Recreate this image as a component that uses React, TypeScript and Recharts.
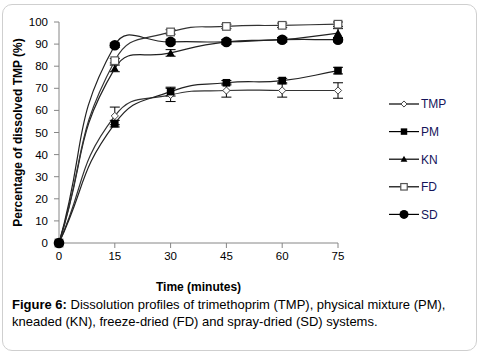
import React from "react";
import { LineChart, Line, XAxis, YAxis, ErrorBar } from "recharts";

const times = [0, 15, 30, 45, 60, 75];
const xTicks = [0, 15, 30, 45, 60, 75];
const yTicks = [0, 10, 20, 30, 40, 50, 60, 70, 80, 90, 100];

const tmpValues = [0, 57.5, 67, 69, 69, 69];
const pmValues = [0, 54, 68.5, 72.5, 73.5, 78];
const knValues = [0, 79, 86, 91, 92, 95];
const fdValues = [0, 82.5, 95.5, 98, 98.5, 99];
const sdValues = [0, 89.5, 91, 91, 92, 92];

const tmpErr = [0, 4, 3, 3, 3, 3.5];
const pmErr = [0, 1.5, 2, 1, 1, 1.5];
const knErr = [0, 1.5, 1.5, 1, 1, 2];
const fdErr = [0, 1, 1, 1, 1, 1];
const sdErr = [0, 1, 1, 1, 1, 1];

const seriesNames = ["TMP", "PM", "KN", "FD", "SD"];

const data = times.map((t, i) => ({
  time: t,
  TMP: tmpValues[i],
  PM: pmValues[i],
  KN: knValues[i],
  FD: fdValues[i],
  SD: sdValues[i],
  TMPe: tmpErr[i],
  PMe: pmErr[i],
  KNe: knErr[i],
  FDe: fdErr[i],
  SDe: sdErr[i],
}));

// Excel-like smoothed curve (chord-weighted cardinal bezier)
const excelCurve = (context: any) => {
  let pts: number[][] = [];
  return {
    areaStart() {},
    areaEnd() {},
    lineStart() {
      pts = [];
    },
    point(x: number, y: number) {
      pts.push([+x, +y]);
    },
    lineEnd() {
      const n = pts.length;
      if (!n) return;
      context.moveTo(pts[0][0], pts[0][1]);
      if (n === 1) return;
      const dist = (a: number[], b: number[]) => Math.hypot(b[0] - a[0], b[1] - a[1]);
      const k = 0.5;
      for (let i = 0; i < n - 1; i++) {
        const p0 = pts[i - 1] || pts[i];
        const p1 = pts[i];
        const p2 = pts[i + 1];
        const p3 = pts[i + 2] || pts[i + 1];
        const d01 = dist(p0, p1);
        const d12 = dist(p1, p2);
        const d23 = dist(p2, p3);
        const f1 = d01 + d12 > 0 ? (k * d12) / (d01 + d12) : 0;
        const f2 = d12 + d23 > 0 ? (k * d12) / (d12 + d23) : 0;
        const c1x = p1[0] + (p2[0] - p0[0]) * f1;
        const c1y = p1[1] + (p2[1] - p0[1]) * f1;
        const c2x = p2[0] - (p3[0] - p1[0]) * f2;
        const c2y = p2[1] - (p3[1] - p1[1]) * f2;
        context.bezierCurveTo(c1x, c1y, c2x, c2y, p2[0], p2[1]);
      }
    },
  };
};

const Marker = ({ kind, cx, cy, scale = 1 }: any) => {
  if (cx == null || cy == null) return null;
  const s = scale;
  switch (kind) {
    case "TMP": {
      const r = 3.6 * s;
      return (
        <path
          d={`M${cx},${cy - r}L${cx + r},${cy}L${cx},${cy + r}L${cx - r},${cy}Z`}
          fill="#fff"
          stroke="#444"
          strokeWidth={1}
        />
      );
    }
    case "PM": {
      const h = 3.8 * s;
      return <rect x={cx - h} y={cy - h} width={2 * h} height={2 * h} fill="#000" />;
    }
    case "KN": {
      const r = 4 * s;
      return (
        <path
          d={`M${cx},${cy - r}L${cx + r},${cy + r * 0.75}L${cx - r},${cy + r * 0.75}Z`}
          fill="#000"
        />
      );
    }
    case "FD": {
      const h = 3.8 * s;
      return (
        <rect
          x={cx - h}
          y={cy - h}
          width={2 * h}
          height={2 * h}
          fill="#fff"
          stroke="#555"
          strokeWidth={1.2}
        />
      );
    }
    case "SD":
    default:
      return <circle cx={cx} cy={cy} r={5.3 * s} fill="#000" />;
  }
};

const makeDot = (kind: string) => (props: any) => (
  <Marker key={`${kind}-${props.index}`} kind={kind} cx={props.cx} cy={props.cy} />
);

const LegendBox = () => (
  <svg width={80} height={145} style={{ position: "absolute", left: 385, top: 90 }}>
    {seriesNames.map((name, i) => {
      const y = 14 + i * 27.6;
      return (
        <g key={name}>
          <line x1={4} x2={34} y1={y} y2={y} stroke="#000" strokeWidth={1.2} />
          <Marker kind={name} cx={19} cy={y} scale={0.85} />
          <text
            x={36}
            y={y}
            dy="0.36em"
            fontSize={12}
            fontFamily="Liberation Sans, Arial, sans-serif"
            fill="#14145a"
          >
            {name}
          </text>
        </g>
      );
    })}
  </svg>
);

const tickStyle = { fontSize: 11.5, fill: "#000", fontFamily: "Liberation Sans, Arial, sans-serif" };

export default function App() {
  return (
    <div style={{ position: "absolute", left: 0, top: 0, width: 481, height: 355, background: "#fff" }}>
      <div
        style={{
          position: "absolute",
          left: 2,
          top: 4,
          width: 473,
          height: 345,
          border: "1.5px solid #cfcfcf",
          borderRadius: 10,
        }}
      />
      <div style={{ position: "absolute", left: 0, top: 0 }}>
        <LineChart
          width={481}
          height={355}
          data={data}
          margin={{ top: 22, right: 143, bottom: 64, left: 14 }}
        >
          <XAxis
            dataKey="time"
            type="number"
            domain={[0, 75]}
            ticks={xTicks}
            tickSize={5}
            tickMargin={4}
            height={48}
            stroke="#868686"
            tick={tickStyle}
            label={{
              value: "Time (minutes)",
              position: "insideBottom",
              offset: 0,
              style: { fontSize: 12, fontWeight: "bold", fill: "#000", fontFamily: "Liberation Sans, Arial, sans-serif" },
            }}
          />
          <YAxis
            type="number"
            domain={[0, 100]}
            ticks={yTicks}
            tickSize={5}
            tickMargin={6}
            width={45}
            stroke="#868686"
            tick={tickStyle}
            label={{
              value: "Percentage of dissolved TMP (%)",
              angle: -90,
              position: "insideLeft",
              offset: 4,
              style: { textAnchor: "middle", fontSize: 12, fontWeight: "bold", fill: "#000", fontFamily: "Liberation Sans, Arial, sans-serif" },
            }}
          />
          <Line dataKey="TMP" type={excelCurve as any} stroke="#333" strokeWidth={1.2} dot={makeDot("TMP")} activeDot={false} isAnimationActive={false}>
            <ErrorBar dataKey="TMPe" width={5} stroke="#000" strokeWidth={1} direction="y" />
          </Line>
          <Line dataKey="PM" type={excelCurve as any} stroke="#222" strokeWidth={1.2} dot={makeDot("PM")} activeDot={false} isAnimationActive={false}>
            <ErrorBar dataKey="PMe" width={5} stroke="#000" strokeWidth={1} direction="y" />
          </Line>
          <Line dataKey="KN" type={excelCurve as any} stroke="#222" strokeWidth={1.2} dot={makeDot("KN")} activeDot={false} isAnimationActive={false}>
            <ErrorBar dataKey="KNe" width={5} stroke="#000" strokeWidth={1} direction="y" />
          </Line>
          <Line dataKey="FD" type={excelCurve as any} stroke="#333" strokeWidth={1.2} dot={makeDot("FD")} activeDot={false} isAnimationActive={false}>
            <ErrorBar dataKey="FDe" width={5} stroke="#000" strokeWidth={1} direction="y" />
          </Line>
          <Line dataKey="SD" type={excelCurve as any} stroke="#222" strokeWidth={1.2} dot={makeDot("SD")} activeDot={false} isAnimationActive={false}>
            <ErrorBar dataKey="SDe" width={5} stroke="#000" strokeWidth={1} direction="y" />
          </Line>
        </LineChart>
      </div>
      <LegendBox />
      <div
        style={{
          position: "absolute",
          left: 12,
          top: 296,
          width: 465,
          fontFamily: "Liberation Sans, Arial, sans-serif",
          fontSize: 13,
          lineHeight: "17px",
          color: "#000",
        }}
      >
        <b>Figure 6:</b> Dissolution profiles of trimethoprim (TMP), physical mixture (PM),
        <br />
        kneaded (KN), freeze-dried (FD) and spray-dried (SD) systems.
      </div>
    </div>
  );
}
